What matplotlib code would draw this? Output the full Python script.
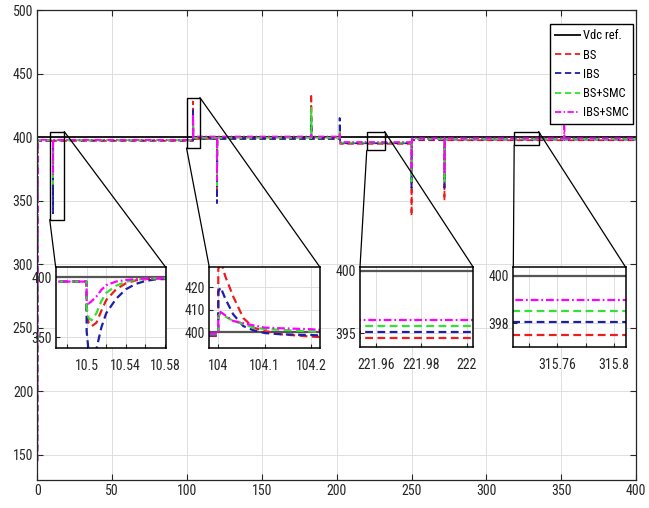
import matplotlib
matplotlib.use('Agg')
import matplotlib.pyplot as plt
from matplotlib import font_manager as fm
from matplotlib.patches import Rectangle, ConnectionPatch

# look for a narrow sans face (the reference text is condensed)
narrow = None
for pref in ['Liberation Sans Narrow', 'Roboto Condensed', 'DejaVu Sans', 'Open Sans', 'Noto Sans']:
    for f in fm.fontManager.ttflist:
        if f.name == pref and (pref.endswith(('Narrow', 'Condensed')) or
                               f.stretch in ('condensed', 'semi-condensed')):
            narrow = f
            break
    if narrow:
        break
if narrow:
    plt.rcParams['font.family'] = [narrow.name, 'DejaVu Sans']
    plt.rcParams['font.stretch'] = narrow.stretch
    fs, lfs = 10, 9
else:
    plt.rcParams['font.family'] = ['Liberation Sans', 'DejaVu Sans']
    fs, lfs = 8.6, 7.6

# ---- main trace: event times and DC-link voltage of each controller ----
t_main = [0, 0.5, 10.5, 10.5, 10.6, 104, 104, 104.3, 120, 120, 120.3,
          183, 183, 183.3, 202, 202, 202.3, 250, 250, 250.3, 272, 272, 272.3,
          352, 352, 352.3, 400]
vref_t = [0, 400]
vref = [400, 400]
bs = [145, 397.0, 397.0, 356, 397.0, 397.0, 428, 398.5, 398.5, 358, 398.5,
      398.5, 434, 398.5, 398.5, 405, 394.65, 394.65, 338, 397.5, 397.5, 350, 397.5,
      397.5, 401, 397.5, 397.5]
ibs = [145, 397.3, 397.3, 340, 397.3, 397.3, 421, 398.6, 398.6, 348, 398.6,
       398.6, 415, 398.6, 398.6, 415, 395.13, 395.13, 360, 398.0, 398.0, 360, 398.0,
       398.0, 401, 398.0, 398.0]
bssmc = [145, 397.6, 397.6, 363, 397.6, 397.6, 412, 399.4, 399.4, 362, 399.4,
         399.4, 423, 399.4, 399.4, 404, 395.6, 395.6, 365, 398.5, 398.5, 365, 398.5,
         398.5, 402, 398.5, 398.5]
ibssmc = [145, 397.8, 397.8, 370, 397.8, 397.8, 418, 400.4, 400.4, 366, 400.4,
          400.4, 402, 400.4, 400.4, 403, 396.05, 396.05, 373, 399.0, 399.0, 371, 399.0,
          399.0, 417, 399.0, 399.0]
labels = ['Vdc ref.', 'BS', 'IBS', 'BS+SMC', 'IBS+SMC']

# ---- zoom 1: around t = 10.5 s ----
t1 = [10.46, 10.4999, 10.5, 10.502, 10.505, 10.51, 10.515, 10.52, 10.53,
      10.54, 10.55, 10.56, 10.57, 10.59]
bs1 = [396.5, 396.5, 370, 362, 359, 362, 372, 381, 390, 395, 397.5, 398.5, 399, 399.2]
ibs1 = [396.5, 396.5, 355, 338, 332, 340, 358, 370, 382, 390, 394.5, 397, 398.3, 399]
bssmc1 = [396.5, 396.5, 375, 366, 364, 370, 380, 387, 393, 396.3, 398, 398.8, 399.1, 399.3]
ibssmc1 = [396.5, 396.5, 380, 378, 380, 384, 389.5, 393.5, 396.5, 397.8, 398.6, 399, 399.2, 399.3]

# ---- zoom 2: around t = 104 s ----
t2 = [103.98, 103.9999, 104.0, 104.005, 104.015, 104.032, 104.054, 104.076,
      104.1, 104.137, 104.2, 104.22]
bs2 = [398.3, 398.3, 428, 432, 425, 416, 406.3, 402, 400.5, 399, 398, 397.8]
ibs2 = [398.6, 398.6, 418, 420, 415, 408, 402.7, 400.8, 399.6, 399, 398.7, 398.5]
bssmc2 = [399, 399, 407, 408.5, 407, 405, 403.6, 402, 401.4, 401, 400.3, 400]
ibssmc2 = [399.3, 399.3, 408, 409, 407.5, 405, 404, 403, 402, 401.7, 401.3, 401]

# ---- zoom 3: steady state near t = 222 s ----
t3 = [221.95, 222.01]
bs3 = [394.65, 394.65]
ibs3 = [395.13, 395.13]
bssmc3 = [395.6, 395.6]
ibssmc3 = [396.05, 396.05]

# ---- zoom 4: steady state near t = 315.8 s ----
t4 = [315.72, 315.82]
bs4 = [397.5, 397.5]
ibs4 = [398.03, 398.03]
bssmc4 = [398.5, 398.5]
ibssmc4 = [398.99, 398.99]

# rectangles marked on the main plot (x0, x1, y0, y1)
zoom_boxes = [(8.3, 18.0, 335.0, 404.3), (99.7, 108.6, 391.3, 431.1),
              (220.1, 232.0, 389.4, 404.3), (318.6, 334.9, 393.6, 404.3)]

colors = ['#ee1c1c', '#1e1ea8', '#33e033', '#ff00ff']
dashes = [(3.5, 2), (3.5, 2), (3.5, 2), (3.5, 1.3, 0.8, 1.3)]
txt = '#262626'

fig = plt.figure(figsize=(6.49, 5.08), dpi=100)
ax = fig.add_axes([0.0575, 0.0551, 0.9225, 0.9252])

ax.plot(vref_t, vref, color='#1a1a1a', lw=1.4, label=labels[0])
for s, c, d, lab in zip([bs, ibs, bssmc, ibssmc], colors, dashes, labels[1:]):
    ax.plot(t_main, s, color=c, lw=1.3, dashes=d, label=lab)

ax.set_xlim(0, 400)
ax.set_ylim(130, 500)
ax.set_xticks(range(0, 401, 50))
ax.set_yticks(range(150, 501, 50))
ax.grid(True, color='#dedede', lw=0.7)
ax.set_axisbelow(True)
ax.tick_params(direction='in', top=True, right=True, length=4, labelsize=fs,
               colors=txt, pad=3)
for sp in ax.spines.values():
    sp.set_color(txt)
    sp.set_linewidth(0.9)

leg = ax.legend(loc='upper right', bbox_to_anchor=(0.9955, 0.9696), borderaxespad=0,
                fontsize=lfs, fancybox=False, edgecolor='k', framealpha=1,
                handlelength=2.0, handletextpad=0.25, labelspacing=0.5, borderpad=0.4)
leg.get_frame().set_linewidth(1.0)

for (x0, x1, y0, y1) in zoom_boxes:
    ax.add_patch(Rectangle((x0, y0), x1 - x0, y1 - y0, fill=False, ec='k', lw=1.0, zorder=5))


def inset(rect, box, t, ys, xlim, ylim, xticks, xlabels, yticks):
    axi = fig.add_axes(rect)
    axi.plot(xlim, [400, 400], color='#555555', lw=1.6)
    for y, c, d in zip(ys, colors, dashes):
        axi.plot(t, y, color=c, lw=1.6, dashes=d)
    axi.set_xlim(xlim)
    axi.set_ylim(ylim)
    axi.set_xticks(xticks)
    axi.set_xticklabels(xlabels)
    axi.set_yticks(yticks)
    axi.grid(True, color='#dedede', lw=0.7)
    axi.set_axisbelow(True)
    axi.tick_params(direction='in', length=3, labelsize=fs, colors=txt)
    axi.tick_params(axis='x', pad=8)
    axi.tick_params(axis='y', pad=3)
    for sp in axi.spines.values():
        sp.set_color('k')
        sp.set_linewidth(1.1)
    x0, x1, y0, y1 = box
    for pa, pb in [((x0, y0), (0, 1)), ((x1, y1), (1, 1))]:
        con = ConnectionPatch(xyA=pa, coordsA='data', axesA=ax,
                              xyB=pb, coordsB='axes fraction', axesB=axi,
                              color='k', lw=0.9)
        fig.add_artist(con)
    return axi


inset([0.0858, 0.3154, 0.1695, 0.1585], zoom_boxes[0], t1,
      [bs1, ibs1, bssmc1, ibssmc1], (10.4684, 10.5807), (341, 408.5),
      [10.48, 10.5, 10.52, 10.54, 10.56, 10.58], ['', '10.5', '', '10.54', '', '10.58'],
      [350, 400])
inset([0.3225, 0.3154, 0.1706, 0.1585], zoom_boxes[1], t2,
      [bs2, ibs2, bssmc2, ibssmc2], (103.9806, 104.2194), (393, 429),
      [104, 104.1, 104.2], ['104', '104.1', '104.2'], [400, 410, 420])
inset([0.5547, 0.3173, 0.1746, 0.1565], zoom_boxes[2], t3,
      [bs3, ibs3, bssmc3, ibssmc3], (221.953, 222.0029), (393.93, 400.27),
      [221.96, 221.98, 222], ['221.96', '221.98', '222'], [395, 400])
inset([0.7909, 0.3173, 0.1732, 0.1565], zoom_boxes[3], t4,
      [bs4, ibs4, bssmc4, ibssmc4], (315.7293, 315.8082), (397.0, 400.35),
      [315.74, 315.76, 315.78, 315.8], ['', '315.76', '', '315.8'], [398, 400])

fig.savefig('out.png', dpi=100)
